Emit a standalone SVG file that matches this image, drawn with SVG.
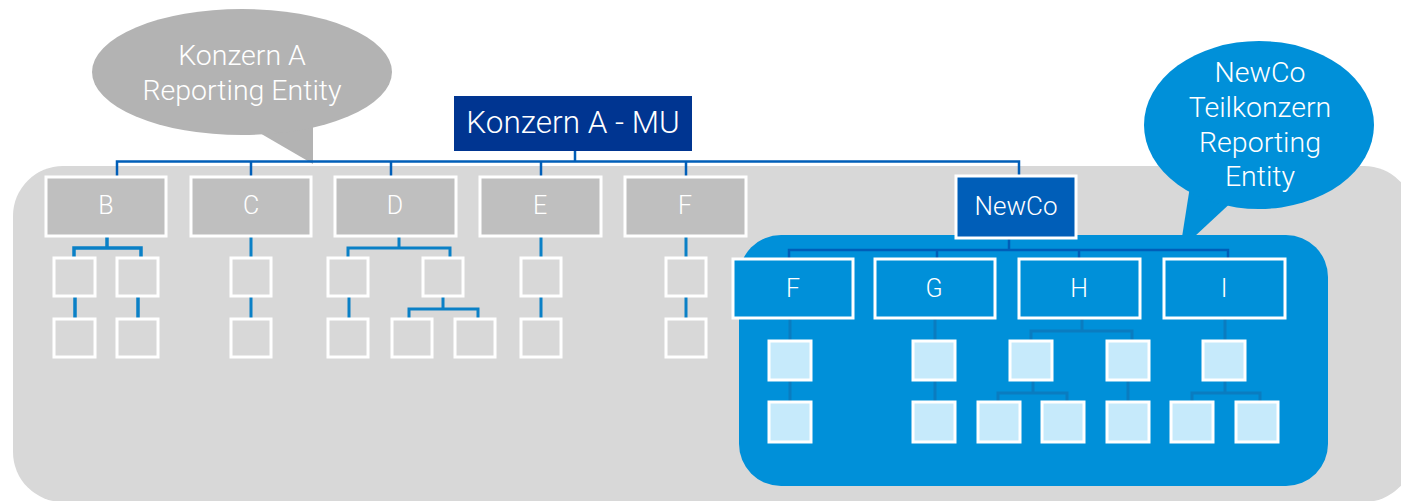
<svg xmlns="http://www.w3.org/2000/svg" width="1401" height="501" viewBox="0 0 1401 501">
  <style>
    text { font-family: Roboto, "Liberation Sans", Arial, sans-serif; font-weight: 300; fill: #ffffff; text-anchor: middle; }
    .bus { fill: none; stroke: #005eb8; stroke-width: 2.5; }
    .gl { fill: none; stroke: #0a80c6; stroke-width: 3; }
    .bl { fill: none; stroke: #0a7cc0; stroke-width: 3; }
    .gbox { fill: #bfbfbf; stroke: #ffffff; stroke-width: 3; }
    .sbox { fill: none; stroke: #ffffff; stroke-width: 3; }
    .bbox { fill: #0090d9; stroke: #ffffff; stroke-width: 3; }
    .lbox { fill: #c6eafb; stroke: #ffffff; stroke-width: 3; }
    .lbl { font-size: 25px; }
    .bub { font-size: 28.5px; }
  </style>

  <!-- group area -->
  <rect id="konzern-area" x="13" y="166" width="1401" height="336" rx="50" ry="50" fill="#d8d8d8"/>

  <!-- speech bubble: Konzern A -->
  <g id="bubble-konzern">
    <path d="M258,132 L313,164 L313,124 Z" fill="#b3b3b3"/>
    <ellipse cx="242" cy="72" rx="150" ry="63" fill="#b3b3b3"/>
    <text class="bub" x="242" y="65">Konzern A</text>
    <text class="bub" x="242" y="100">Reporting Entity</text>
  </g>

  <!-- sub-group area -->
  <rect id="newco-area" x="739" y="235" width="589" height="251" rx="42" ry="42" fill="#0090d9"/>

  <!-- speech bubble: NewCo -->
  <g id="bubble-newco">
    <path d="M1191,180 L1182,237 L1194,237 L1236,198 Z" fill="#0090d9"/>
    <ellipse cx="1259" cy="125" rx="115" ry="84" fill="#0090d9"/>
    <text class="bub" x="1260" y="82">NewCo</text>
    <text class="bub" x="1260" y="117">Teilkonzern</text>
    <text class="bub" x="1260" y="152">Reporting</text>
    <text class="bub" x="1260" y="186">Entity</text>
  </g>

  <g id="connectors">
    <!-- top level -->
    <path class="bus" d="M575,151 V161.5 M117,177 V161.5 H1019 V177 M251,161.5 V177 M391,161.5 V177 M541,161.5 V177 M686,161.5 V177"/>
    <!-- B -->
    <path class="gl" d="M107,236 V248 M74,258 V248 H141 V258 M75,296 V319 M138,296 V319" style="stroke-width:3.5"/>
    <!-- C -->
    <path class="gl" d="M251,236 V258 M251,296 V319"/>
    <!-- D -->
    <path class="gl" d="M399,236 V248 M348,258 V248 H450 V258 M349,296 V319 M443,296 V309 M409,319 V309 H478 V319"/>
    <!-- E -->
    <path class="gl" d="M541,236 V258 M541,296 V319"/>
    <!-- F -->
    <path class="gl" d="M686,236 V258 M686,296 V319"/>
    <!-- NewCo -->
    <path class="bus" d="M1009,238 V250 M789,259 V250 H1228 V259 M937,250 V259 M1079,250 V259"/>
    <!-- F in NewCo -->
    <path class="bl" d="M790,318 V341 M790,380 V402"/>
    <!-- G -->
    <path class="bl" d="M935,318 V341 M935,380 V402"/>
    <!-- H -->
    <path class="bl" d="M1082,318 V331 M1031,341 V331 H1132 V341 M1033,380 V393 M998,402 V393 H1067 V402 M1128,380 V402"/>
    <!-- I -->
    <path class="bl" d="M1225,318 V341 M1225,380 V393 M1192,402 V393 H1260 V402"/>
  </g>

  <g id="node-mu">
    <rect x="454" y="96" width="238" height="55" fill="#003591"/>
    <text x="573" y="133" font-size="31.5">Konzern A - MU</text>
  </g>

  <g id="node-b">
    <rect class="gbox" x="46" y="177" width="120" height="59"/>
    <text class="lbl" x="106" y="214">B</text>
    <rect class="sbox" x="54" y="258" width="41" height="38"/>
    <rect class="sbox" x="117" y="258" width="41" height="38"/>
    <rect class="sbox" x="54" y="319" width="41" height="38"/>
    <rect class="sbox" x="117" y="319" width="41" height="38"/>
  </g>
  <g id="node-c">
    <rect class="gbox" x="191" y="177" width="120" height="59"/>
    <text class="lbl" x="251" y="214">C</text>
    <rect class="sbox" x="231" y="258" width="40" height="38"/>
    <rect class="sbox" x="231" y="319" width="40" height="38"/>
  </g>
  <g id="node-d">
    <rect class="gbox" x="335" y="177" width="121" height="59"/>
    <text class="lbl" x="395" y="214">D</text>
    <rect class="sbox" x="328" y="258" width="40" height="38"/>
    <rect class="sbox" x="423" y="258" width="40" height="38"/>
    <rect class="sbox" x="328" y="319" width="40" height="38"/>
    <rect class="sbox" x="392" y="319" width="40" height="38"/>
    <rect class="sbox" x="455" y="319" width="40" height="38"/>
  </g>
  <g id="node-e">
    <rect class="gbox" x="480" y="177" width="121" height="59"/>
    <text class="lbl" x="540" y="214">E</text>
    <rect class="sbox" x="521" y="258" width="40" height="38"/>
    <rect class="sbox" x="521" y="319" width="40" height="38"/>
  </g>
  <g id="node-f">
    <rect class="gbox" x="625" y="177" width="121" height="59"/>
    <text class="lbl" x="685" y="214">F</text>
    <rect class="sbox" x="666" y="258" width="40" height="38"/>
    <rect class="sbox" x="666" y="319" width="40" height="38"/>
  </g>

  <g id="node-newco">
    <rect x="956" y="176" width="120" height="62" fill="#005eb8" stroke="#ffffff" stroke-width="3"/>
    <text x="1016" y="215" font-size="26">NewCo</text>
  </g>

  <g id="node-newco-f">
    <rect class="bbox" x="733" y="259" width="120" height="59"/>
    <text class="lbl" x="793" y="297">F</text>
    <rect class="lbox" x="769" y="341" width="42" height="39"/>
    <rect class="lbox" x="769" y="402" width="42" height="40"/>
  </g>
  <g id="node-g">
    <rect class="bbox" x="875" y="259" width="120" height="59"/>
    <text class="lbl" x="934" y="297">G</text>
    <rect class="lbox" x="913" y="341" width="42" height="39"/>
    <rect class="lbox" x="913" y="402" width="42" height="40"/>
  </g>
  <g id="node-h">
    <rect class="bbox" x="1019" y="259" width="121" height="59"/>
    <text class="lbl" x="1079" y="297">H</text>
    <rect class="lbox" x="1010" y="341" width="42" height="39"/>
    <rect class="lbox" x="1107" y="341" width="42" height="39"/>
    <rect class="lbox" x="978" y="402" width="42" height="40"/>
    <rect class="lbox" x="1042" y="402" width="42" height="40"/>
    <rect class="lbox" x="1107" y="402" width="42" height="40"/>
  </g>
  <g id="node-i">
    <rect class="bbox" x="1164" y="259" width="121" height="59"/>
    <text class="lbl" x="1224" y="297">I</text>
    <rect class="lbox" x="1203" y="341" width="42" height="39"/>
    <rect class="lbox" x="1171" y="402" width="42" height="40"/>
    <rect class="lbox" x="1236" y="402" width="42" height="40"/>
  </g>
</svg>
